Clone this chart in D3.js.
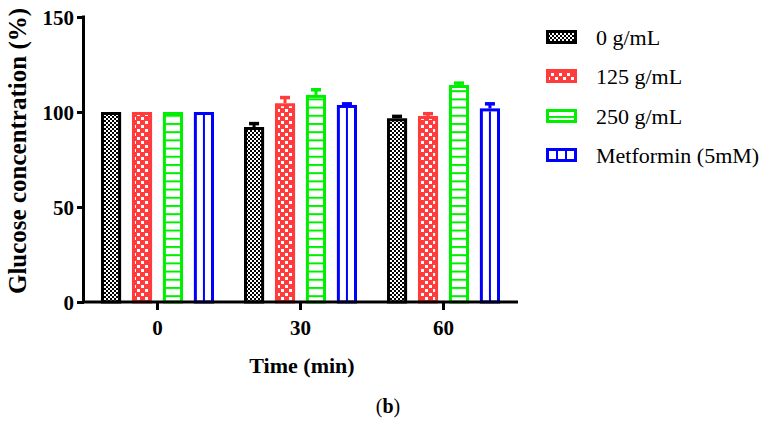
<!DOCTYPE html>
<html><head><meta charset="utf-8">
<script src="https://cdn.jsdelivr.net/npm/d3@7"></script>
<style>body{margin:0;background:#fff}svg{display:block}</style>
</head><body>
<script>
const categories = ["0", "30", "60"];
const seriesNames = ["0 g/mL", "125 g/mL", "250 g/mL", "Metformin (5mM)"];
const s0 = [100, 92.1, 96.7];
const s125 = [100, 104.6, 97.9];
const s250 = [100, 109.0, 114.2];
const sMet = [100, 103.7, 101.9];
const e0 = [0, 1.8, 1.0];
const e125 = [0, 3.0, 1.2];
const e250 = [0, 2.7, 1.0];
const eMet = [0, 0.6, 2.4];
const yTicks = [0, 50, 100, 150];
const colors = ["#000000", "#ff3b3b", "#00ee00", "#0000ff"];

const values = [s0, s125, s250, sMet];
const errors = [e0, e125, e250, eMet];

const W = 771, H = 430;
const svg = d3.select("body").append("svg").attr("width", W).attr("height", H);
const defs = svg.append("defs");

// patterns
const p0 = defs.append("pattern").attr("id", "pat0").attr("patternUnits", "userSpaceOnUse").attr("width", 4).attr("height", 4);
p0.append("rect").attr("width", 4).attr("height", 4).attr("fill", "#fff");
p0.append("rect").attr("width", 2).attr("height", 2).attr("fill", "#000");
p0.append("rect").attr("x", 2).attr("y", 2).attr("width", 2).attr("height", 2).attr("fill", "#000");

const p1 = defs.append("pattern").attr("id", "pat1").attr("patternUnits", "userSpaceOnUse").attr("width", 8).attr("height", 8);
p1.append("rect").attr("width", 8).attr("height", 8).attr("fill", colors[1]);
p1.append("rect").attr("x", 1).attr("y", 1).attr("width", 3).attr("height", 3).attr("fill", "#fff");
p1.append("rect").attr("x", 5).attr("y", 5).attr("width", 3).attr("height", 3).attr("fill", "#fff");

const p2 = defs.append("pattern").attr("id", "pat2").attr("patternUnits", "userSpaceOnUse").attr("width", 8).attr("height", 8.2);
p2.append("rect").attr("width", 8).attr("height", 8.2).attr("fill", "#fff");
p2.append("rect").attr("y", 0).attr("width", 8).attr("height", 2).attr("fill", colors[2]);

const p3 = defs.append("pattern").attr("id", "pat3").attr("patternUnits", "objectBoundingBox").attr("width", 1).attr("height", 1);
p3.append("rect").attr("width", 40).attr("height", 400).attr("fill", "#fff");

const patIds = ["pat0", "pat1", "pat2", "pat3"];

const mLeft = 84, mBottom = 302, mTop = 17, axisRight = 518;
const y = d3.scaleLinear().domain([0, 150]).range([mBottom, mTop]);
const x0 = d3.scaleBand().domain(categories).range([86, 515]);
const x1 = d3.scaleBand().domain(seriesNames).range([0, 113]).paddingInner(0.35);
const groupOff = (x0.bandwidth() - 113) / 2;
const sw = 3;

categories.forEach((c, ci) => {
  seriesNames.forEach((s, si) => {
    const v = values[si][ci], e = errors[si][ci];
    const bx = x0(c) + groupOff + x1(s);
    const bw = x1.bandwidth();
    const cx = bx + bw / 2;
    if (e > 0) {
      svg.append("line").attr("x1", cx).attr("x2", cx).attr("y1", y(v)).attr("y2", y(v + e))
        .attr("stroke", colors[si]).attr("stroke-width", sw);
      svg.append("line").attr("x1", cx - 5).attr("x2", cx + 5).attr("y1", y(v + e)).attr("y2", y(v + e))
        .attr("stroke", colors[si]).attr("stroke-width", sw + 0.5);
    }
    svg.append("rect").attr("x", bx + sw / 2).attr("y", y(v) + sw / 2)
      .attr("width", bw - sw).attr("height", y(0) - y(v) - sw / 2)
      .attr("fill", "url(#" + patIds[si] + ")")
      .attr("stroke", colors[si]).attr("stroke-width", sw);
    if (si === 3) {
      svg.append("line").attr("x1", cx).attr("x2", cx).attr("y1", y(v) + sw).attr("y2", y(0))
        .attr("stroke", colors[3]).attr("stroke-width", 2);
    }
  });
});

// Y axis
const yAxis = svg.append("g").attr("transform", `translate(${mLeft},0)`)
  .call(d3.axisLeft(y).tickValues(yTicks).tickSize(7).tickSizeOuter(0).tickPadding(3));
yAxis.select(".domain").attr("stroke-width", 3).attr("d", `M-0.5,${mTop - 1.5}V${mBottom}`);
yAxis.selectAll(".tick line").attr("stroke-width", 3);
yAxis.selectAll(".tick text").attr("font-family", "Liberation Serif").attr("font-weight", "bold")
  .attr("font-size", 21).attr("fill", "#000").attr("dy", "0.34em");

// X axis
const xAxis = svg.append("g").attr("transform", `translate(0,${mBottom})`)
  .call(d3.axisBottom(x0).tickSize(8).tickSizeOuter(0).tickPadding(10));
xAxis.select(".domain").attr("stroke-width", 3).attr("d", `M${mLeft - 2},0H${axisRight}`);
xAxis.selectAll(".tick line").attr("stroke-width", 3);
xAxis.selectAll(".tick text").attr("font-family", "Liberation Serif").attr("font-weight", "bold")
  .attr("font-size", 21).attr("fill", "#000");

// Axis titles
svg.append("text").attr("transform", "translate(26,151) rotate(-90)").attr("text-anchor", "middle")
  .attr("font-family", "Liberation Serif").attr("font-weight", "bold").attr("font-size", 25)
  .text("Glucose concentration (%)");
svg.append("text").attr("x", 302).attr("y", 373).attr("text-anchor", "middle")
  .attr("font-family", "Liberation Serif").attr("font-weight", "bold").attr("font-size", 22)
  .text("Time (min)");

// Legend
const legY = [37, 76, 116, 155];
seriesNames.forEach((s, si) => {
  const g = svg.append("g").attr("transform", `translate(546,${legY[si]})`);
  g.append("rect").attr("x", 1.5).attr("y", -5.5).attr("width", 28).attr("height", 11)
    .attr("fill", "url(#" + patIds[si] + ")").attr("stroke", colors[si]).attr("stroke-width", 3);
  if (si === 3) {
    g.append("line").attr("x1", 11).attr("x2", 11).attr("y1", -5).attr("y2", 5).attr("stroke", colors[3]).attr("stroke-width", 2);
    g.append("line").attr("x1", 20).attr("x2", 20).attr("y1", -5).attr("y2", 5).attr("stroke", colors[3]).attr("stroke-width", 2);
  }
  g.append("text").attr("x", 50).attr("y", 0).attr("dy", "0.35em")
    .attr("font-family", "Liberation Serif").attr("font-size", 22).text(s);
});

// caption
const cap = svg.append("text").attr("x", 388).attr("y", 413).attr("text-anchor", "middle")
  .attr("font-family", "Liberation Serif").attr("font-size", 20);
cap.append("tspan").text("(");
cap.append("tspan").attr("font-weight", "bold").text("b");
cap.append("tspan").text(")");
</script>
</body></html>
